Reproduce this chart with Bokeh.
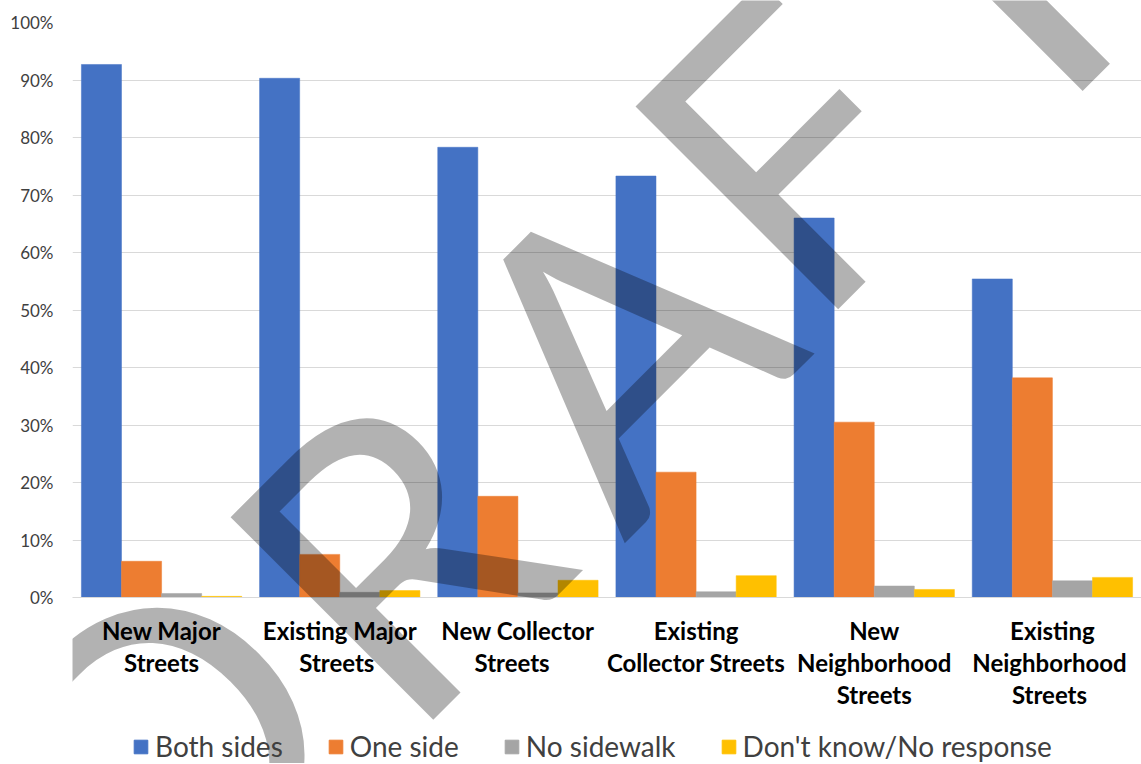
import math
from bokeh.plotting import figure
from bokeh.layouts import column
from bokeh.models import (FactorRange, Range1d, ColumnDataSource, Legend, LegendItem,
                          Label, FixedTicker, PrintfTickFormatter)
from bokeh.transform import dodge
from bokeh.embed import file_html
from bokeh.resources import INLINE

# ---------------- data ----------------
label_line1 = ["New Major", "Existing Major", "New Collector", "Existing", "New", "Existing"]
label_line2 = ["Streets", "Streets ", "Streets  ", "Collector Streets", "Neighborhood", "Neighborhood "]
label_line3 = [" ", "  ", "   ", "    ", "Streets", "Streets "]
series_names = ["Both sides", "One side", "No sidewalk", "Don't know/No response"]
both_sides = [92.7, 90.3, 78.3, 73.3, 66.0, 55.4]
one_side = [6.3, 7.5, 17.6, 21.8, 30.5, 38.2]
no_sidewalk = [0.7, 0.9, 0.8, 1.0, 2.0, 2.9]
dont_know = [0.2, 1.2, 3.0, 3.8, 1.4, 3.5]
y_ticks = [0, 10, 20, 30, 40, 50, 60, 70, 80, 90, 100]
watermark_letters = ["D", "R", "A", "F", "T"]

colors = ["#4472C4", "#ED7D31", "#A5A5A5", "#FFC000"]
FONT = "Lato"
W, H = 1141, 763

# each category is a nested factor: (third line, second line, first line)
categories = list(zip(label_line3, label_line2, label_line1))
src = ColumnDataSource(dict(cat=categories, s0=both_sides, s1=one_side,
                            s2=no_sidewalk, s3=dont_know))

p = figure(width=W, height=H,
           x_range=FactorRange(*categories, range_padding=0, factor_padding=0,
                               subgroup_padding=0, group_padding=0),
           y_range=Range1d(0, 100),
           output_backend="svg", toolbar_location=None,
           min_border_left=72, min_border_right=0, min_border_top=22,
           min_border_bottom=H - 597)
p.outline_line_color = None
p.background_fill_color = "white"
p.border_fill_color = "white"

bw = 0.225
offsets = [-1.5 * bw, -0.5 * bw, 0.5 * bw, 1.5 * bw]
for i, (off, col) in enumerate(zip(offsets, colors)):
    p.vbar(x=dodge("cat", off, range=p.x_range), top="s%d" % i, width=bw,
           source=src, fill_color=col, line_color=col, line_width=0.5)

# y axis
p.xgrid.grid_line_color = None
p.ygrid.grid_line_color = "#D9D9D9"
p.ygrid.grid_line_width = 1
p.yaxis.ticker = FixedTicker(ticks=y_ticks)
p.yaxis.formatter = PrintfTickFormatter(format="%d%%")
p.yaxis.axis_line_color = None
p.yaxis.major_tick_line_color = None
p.yaxis.minor_tick_line_color = None
p.yaxis.major_tick_out = 0
p.yaxis.major_label_text_font = FONT
p.yaxis.major_label_text_font_size = "17px"
p.yaxis.major_label_text_color = "#404040"
p.yaxis.major_label_standoff = 19

# x axis: three rows of category text
xa = p.xaxis[0]
xa.axis_line_color = "#D9D9D9"
xa.major_tick_line_color = None
xa.minor_tick_line_color = None
xa.major_tick_out = 18
xa.separator_line_color = None
xa.major_label_standoff = 0
for pre in ("major_label_", "subgroup_", "group_"):
    setattr(xa, pre + "text_font", FONT)
    setattr(xa, pre + "text_font_style", "bold")
    setattr(xa, pre + "text_font_size", "24px")
    setattr(xa, pre + "text_color", "black")

# ---- overlay figure (canvas pixel coordinates): legend and DRAFT watermark ----
wm = figure(width=W, height=H, x_range=Range1d(0, W), y_range=Range1d(0, H),
            x_axis_type=None, y_axis_type=None, output_backend="svg",
            toolbar_location=None, min_border=0, margin=(-H, 0, 0, 0))
wm.outline_line_color = None
wm.background_fill_alpha = 0
wm.border_fill_alpha = 0
wm.grid.visible = False

# legend swatch renderers (their single rectangle lies outside the canvas)
swatches = [wm.vbar(x=[-100], top=[-100], width=1, fill_color=c, line_color=c) for c in colors]
legend = Legend(items=[LegendItem(label=n, renderers=[r]) for n, r in zip(series_names, swatches)],
                orientation="horizontal", location=(60, 0),
                glyph_width=17, glyph_height=17, label_standoff=6, spacing=44,
                padding=0, margin=0, border_line_color=None, background_fill_alpha=0,
                label_text_font=FONT, label_text_font_size="28px",
                label_text_color="#404040")
wm.add_layout(legend, "center")

wm_px = [(89.5, 738.7), (335, 547), (573.8, 338.2), (758, 145), (975.6, -32.6)]
for letter, (px, py) in zip(watermark_letters, wm_px):
    wm.add_layout(Label(x=px, y=H - py, text=letter, angle=math.pi / 4, text_font=FONT,
                        text_font_size="400px", text_color="black", text_alpha=0.3,
                        text_align="center", text_baseline="alphabetic"))

open("out.html", "w").write(file_html(column(p, wm, spacing=0), INLINE))
